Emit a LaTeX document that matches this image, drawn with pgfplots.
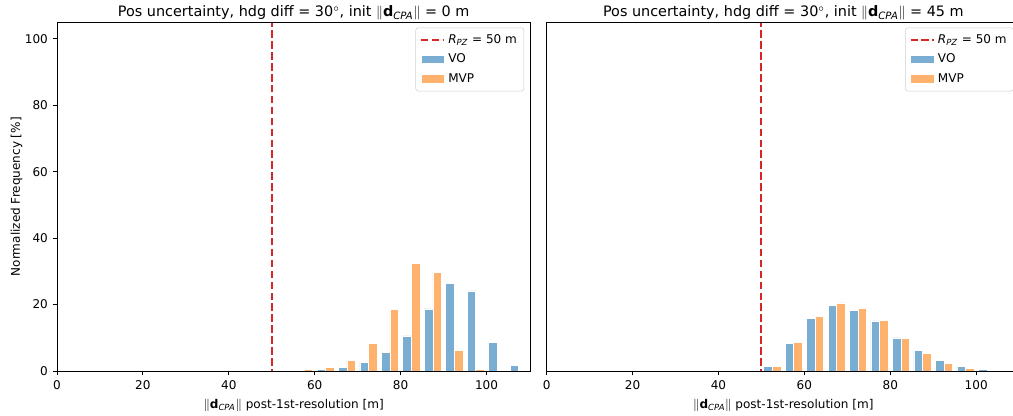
\documentclass[border=0pt]{standalone}
\usepackage{fontspec}
\setmainfont{DejaVu Sans}
\usepackage{pgfplots}
\pgfplotsset{compat=1.18}
\definecolor{vo}{RGB}{121,173,210}
\definecolor{mvp}{RGB}{255,178,110}
\definecolor{tred}{HTML}{D62728}

\newcommand{\dcpa}{$\|$\textbf{d}\textsubscript{\textit{CPA}}$\|$}

\pgfplotsset{
  hist/.style={
    scale only axis, width=120.22mm, height=88.57mm,
    xmin=0, xmax=110.2, ymin=0, ymax=105,
    axis on top,
    axis line style={line width=0.7pt},
    xtick={0,20,...,100}, ytick={0,20,...,100},
    tick align=outside, major tick length=3.1pt,
    every tick/.style={black, line width=0.7pt},
    tick label style={font=\fontsize{8.7}{10}\selectfont},
    /pgf/number format/assume math mode=true,
    title style={font=\fontsize{10.4}{12}\selectfont, yshift=-8pt},
    label style={font=\fontsize{8.7}{10}\selectfont},
    xlabel={\dcpa\ post-1st-resolution [m]},
    ylabel shift=-5pt,
    legend style={at={(0.987,0.985)}, anchor=north east, draw=black!18,
      rounded corners=2pt, font=\fontsize{8.7}{10}\selectfont,
      row sep=2pt, inner sep=3pt},
    legend cell align=left,
  },
  barleg/.style={legend image code/.code={\fill[##1, sharp corners] (0pt,-3pt) rectangle (17pt,3pt);}},
  vobar/.style={ybar, bar width=2, bar shift=0pt, fill=vo, draw=white, line width=0.4pt, barleg},
  mvpbar/.style={ybar, bar width=2, bar shift=0pt, fill=mvp, draw=white, line width=0.4pt, barleg},
  rline/.style={tred, line width=1.5pt, dash pattern=on 5.5pt off 2.4pt},
}

\begin{document}
\begin{tikzpicture}
\begin{axis}[hist, at={(14.478mm,11.43mm)}, anchor=south west,
  xtick pos=bottom, ytick pos=left,
  ylabel={Normalized Frequency [\%]},
  title={Pos uncertainty, hdg diff = 30$^\circ$, init \dcpa\ = 0 m}]
\addplot[rline] coordinates {(50,-5) (50,110)};
\addlegendentry{\textit{R}\textsubscript{\textit{PZ}} = 50 m}
\addplot[vobar] coordinates {
(61.5,0.4) (66.5,1.1) (71.5,2.6) (76.5,5.7) (81.5,10.6)
(86.5,18.7) (91.5,26.4) (96.5,24.1) (101.5,8.5) (106.5,1.7)};
\addlegendentry{VO}
\addplot[mvpbar] coordinates {
(58.5,0.4) (63.5,1.1) (68.5,3.1) (73.5,8.2) (78.5,18.5)
(83.5,32.3) (88.5,29.6) (93.5,6.1) (98.5,0.4)};
\addlegendentry{MVP}
\end{axis}
\begin{axis}[hist, at={(138.86mm,11.43mm)}, anchor=south west,
  xtick pos=bottom, ytick=\empty, yticklabels={},
  title={Pos uncertainty, hdg diff = 30$^\circ$, init \dcpa\ = 45 m}]
\addplot[rline] coordinates {(50,-5) (50,110)};
\addlegendentry{\textit{R}\textsubscript{\textit{PZ}} = 50 m}
\addplot[vobar] coordinates {
(51.5,1.5) (56.5,8.4) (61.5,15.9) (66.5,19.8) (71.5,18.3)
(76.5,15.1) (81.5,10.0) (86.5,6.2) (91.5,3.2) (96.5,1.3) (101.5,0.5)};
\addlegendentry{VO}
\addplot[mvpbar] coordinates {
(53.5,1.5) (58.5,8.7) (63.5,16.5) (68.5,20.5) (73.5,19.0)
(78.5,15.3) (83.5,9.9) (88.5,5.4) (93.5,2.3) (98.5,0.8)};
\addlegendentry{MVP}
\end{axis}
\pgfresetboundingbox
\useasboundingbox (0,0) rectangle (257.302mm,105.664mm);
\end{tikzpicture}
\end{document}
